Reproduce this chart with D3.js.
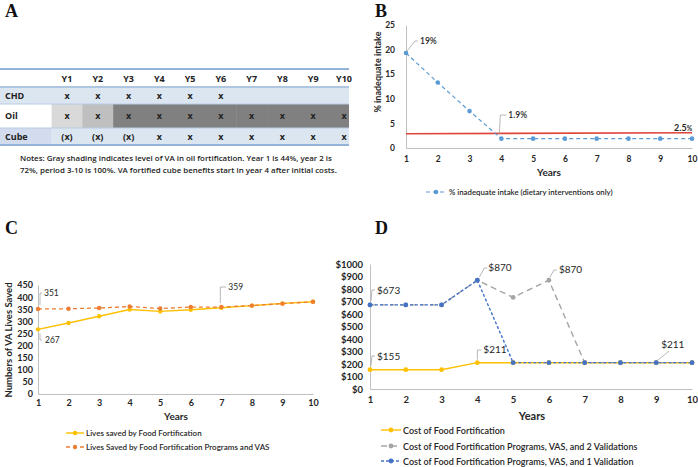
<!DOCTYPE html>
<html><head><meta charset="utf-8">
<script src="https://cdn.jsdelivr.net/npm/d3@7"></script>
<style>body{margin:0;background:#fff}svg{display:block}</style>
</head><body>
<script>
// ---------- DATA ----------
const tableYears = ["Y1","Y2","Y3","Y4","Y5","Y6","Y7","Y8","Y9","Y10"];
const chdMarks  = ["x","x","x","x","x","x","","","",""];
const oilMarks  = ["x","x","x","x","x","x","x","x","x","x"];
const oilShade  = [44,72,100,100,100,100,100,100,100,100];
const cubeMarks = ["(x)","(x)","(x)","x","x","x","x","x","x","x"];
const notesLines = ["Notes: Gray shading indicates level of VA in oil fortification. Year 1 is 44%, year 2 is",
                    "72%, period 3-10  is 100%. VA fortified cube benefits start in year 4 after initial costs."];

const years = [1,2,3,4,5,6,7,8,9,10];
const inadequate = [19.3,13.3,7.5,1.9,1.9,1.9,1.9,1.9,1.9,1.9];
const thresholdValue = 2.9;
const bTicks = [0,5,10,15,20,25];

const livesFood = [267,293,321,349,341,348,356,365,374,381];
const livesFoodVAS = [351,352,355,361,353,359,359,365,373,381];
const cTicks = [0,50,100,150,200,250,300,350,400,450];

const costFood = [155,155,155,211,211,211,211,211,211,211];
const cost2Val = [673,673,673,870,733,870,211,211,211,211];
const cost1Val = [673,673,673,870,211,211,211,211,211,211];
const dTicks = [0,100,200,300,400,500,600,700,800,900,1000];

const W=698,H=467;
const svg=d3.select("body").append("svg").attr("width",W).attr("height",H);
const font="Lato, 'Open Sans', sans-serif";
const txt="#262626";

function panelLetter(t,x,y){
  svg.append("text").attr("x",x).attr("y",y).text(t)
   .attr("font-family","'Liberation Serif', serif").attr("font-weight","bold").attr("font-size",18).attr("fill","#111");
}
panelLetter("A",5,17); panelLetter("B",375,17); panelLetter("C",5,234); panelLetter("D",375,234);

// ---------- PANEL A: table ----------
const tx=d3.scalePoint().domain(tableYears).range([67,344]);
const step=tx.step();
const gA=svg.append("g");
gA.append("rect").attr("x",0).attr("y",88).attr("width",349).attr("height",16).attr("fill","#dce6f1");
gA.append("rect").attr("x",0).attr("y",128).attr("width",349).attr("height",17).attr("fill","#dce6f1");
gA.append("rect").attr("x",0).attr("y",128).attr("width",51).attr("height",17).attr("fill","#d3dcee");
const shade=d3.scaleOrdinal().domain([44,72,100]).range(["#d9d9d9","#bfbfbf","#808080"]);
gA.selectAll(".oil").data(tableYears).join("rect")
  .attr("x",(d,i)=>tx(d)-step/2).attr("y",104).attr("width",(d,i)=>i===9?349-(tx(d)-step/2):step+0.5).attr("height",24)
  .attr("fill",(d,i)=>shade(oilShade[i]));
[[69,2],[87,1.5],[145,2]].forEach(([y,w])=>gA.append("line").attr("x1",0).attr("x2",349).attr("y1",y).attr("y2",y).attr("stroke","#95b3d7").attr("stroke-width",w));
gA.append("line").attr("x1",0).attr("x2",349).attr("y1",104).attr("y2",104).attr("stroke","#b8cce4").attr("stroke-width",1);
gA.append("line").attr("x1",0).attr("x2",349).attr("y1",128).attr("y2",128).attr("stroke","#b8cce4").attr("stroke-width",1);
const tstyle=s=>s.attr("font-family","'Open Sans', sans-serif").attr("font-weight","bold").attr("font-size",9).attr("fill","#222");
gA.selectAll(".hdr").data(tableYears).join("text").attr("x",d=>tx(d)).attr("y",82).attr("text-anchor","middle").text(d=>d).call(tstyle);
[["CHD",chdMarks,99],["Oil",oilMarks,119],["Cube",cubeMarks,140]].forEach(([lab,marks,y])=>{
  gA.append("text").attr("x",5).attr("y",y).text(lab).call(tstyle);
  gA.selectAll(null).data(marks).join("text").attr("x",(d,i)=>tx(tableYears[i])).attr("y",y).attr("text-anchor","middle").text(d=>d).call(tstyle);
});
notesLines.forEach((l,i)=>gA.append("text").attr("x",20).attr("y",161+i*12).text(l)
  .attr("font-family","'Open Sans', sans-serif").attr("font-weight",600).attr("font-size",7.9).attr("fill","#222"));

function styleAxis(g,fs,weight){
  g.select(".domain").attr("stroke","#bfbfbf");
  g.selectAll(".tick line").remove();
  g.selectAll(".tick text").attr("font-family",font).attr("font-weight",weight||"bold").attr("font-size",fs).attr("fill",txt);
}
function leader(pts){
  svg.append("path").attr("d",d3.line()(pts)).attr("fill","none").attr("stroke","#a6a6a6").attr("stroke-width",0.8);
}
function label(t,x,y,fs){
  return svg.append("text").attr("x",x).attr("y",y).text(t).attr("font-family",font).attr("font-size",fs||9).attr("fill",txt);
}

// ---------- PANEL B ----------
const bx=d3.scaleLinear().domain([1,10]).range([406,692]);
const by=d3.scaleLinear().domain([0,25]).range([148,25]);
svg.append("g").attr("transform","translate(0,148)").call(d3.axisBottom(bx).tickValues(years).tickSize(0).tickPadding(8)).call(g=>styleAxis(g,8.5));
svg.append("g").attr("transform","translate(406,0)").call(d3.axisLeft(by).tickValues(bTicks).tickSize(0).tickPadding(11)).call(g=>styleAxis(g,8.5));
svg.append("text").attr("transform","translate(381,72) rotate(-90)").attr("text-anchor","middle").text("% inadequate intake")
  .attr("font-family",font).attr("font-weight","bold").attr("font-size",9).attr("fill",txt);
svg.append("text").attr("x",549).attr("y",176).attr("text-anchor","middle").text("Years").attr("font-family",font).attr("font-weight","bold").attr("font-size",10).attr("fill",txt);
svg.append("line").attr("x1",bx(1)).attr("x2",bx(10)).attr("y1",by(thresholdValue)).attr("y2",by(thresholdValue)-1).attr("stroke","#e0453a").attr("stroke-width",1.6);
svg.append("path").datum(years).attr("d",d3.line().x(d=>bx(d)).y((d,i)=>by(inadequate[i])))
  .attr("fill","none").attr("stroke","#5b9bd5").attr("stroke-width",1.2).attr("stroke-dasharray","4,3");
svg.selectAll(".bpt").data(years).join("circle").attr("cx",d=>bx(d)).attr("cy",(d,i)=>by(inadequate[i])).attr("r",2.3).attr("fill","#5b9bd5");
leader([[bx(1)+1,by(inadequate[0])-2],[bx(1)+9,41],[bx(1)+12,41]]);
label("19%",bx(1)+14,44,8.5).attr("font-weight",600);
leader([[bx(4)-2,by(1.9)-5],[bx(4)-1,115],[bx(4)+5,115]]);
label("1.9%",bx(4)+7,118,8.5).attr("font-weight",600);
const t25=svg.append("text").attr("x",692).attr("y",131).attr("text-anchor","end").attr("font-family",font).attr("font-weight","bold").attr("fill",txt);
t25.append("tspan").attr("font-size",9).text("2.5");t25.append("tspan").attr("font-size",6.5).text("%");
svg.append("line").attr("x1",426).attr("x2",446).attr("y1",192).attr("y2",192).attr("stroke","#5b9bd5").attr("stroke-width",1.2).attr("stroke-dasharray","4,3");
svg.append("circle").attr("cx",436).attr("cy",192).attr("r",2.3).attr("fill","#5b9bd5");
label("% inadequate intake (dietary interventions only)",449,195,7.8).attr("font-weight",600);

// ---------- PANEL C ----------
const cx=d3.scaleLinear().domain([1,10]).range([38,313]);
const cy=d3.scaleLinear().domain([0,450]).range([394,285]);
svg.append("g").attr("transform","translate(0,394)").call(d3.axisBottom(cx).tickValues(years).tickSize(0).tickPadding(6)).call(g=>styleAxis(g,9));
svg.append("g").attr("transform","translate(38,0)").call(d3.axisLeft(cy).tickValues(cTicks).tickSize(0).tickPadding(5)).call(g=>styleAxis(g,9));
svg.append("text").attr("transform","translate(12,340) rotate(-90)").attr("text-anchor","middle").text("Numbers of VA Lives Saved")
  .attr("font-family",font).attr("font-weight","bold").attr("font-size",9.5).attr("fill",txt);
svg.append("text").attr("x",176).attr("y",420).attr("text-anchor","middle").text("Years").attr("font-family",font).attr("font-weight","bold").attr("font-size",10).attr("fill",txt);
svg.append("path").attr("d",d3.line().x(d=>cx(d)).y((d,i)=>cy(livesFood[i]))(years)).attr("fill","none").attr("stroke","#ffc000").attr("stroke-width",1.4);
svg.append("path").attr("d",d3.line().x(d=>cx(d)).y((d,i)=>cy(livesFoodVAS[i]))(years)).attr("fill","none").attr("stroke","#ed7d31").attr("stroke-width",1.3).attr("stroke-dasharray","4,3");
svg.selectAll(".c1").data(years).join("circle").attr("cx",d=>cx(d)).attr("cy",(d,i)=>cy(livesFood[i])).attr("r",2.2).attr("fill","#ffc000");
svg.selectAll(".c2").data(years).join("circle").attr("cx",d=>cx(d)).attr("cy",(d,i)=>cy(livesFoodVAS[i])).attr("r",2.2).attr("fill","#ed7d31");
leader([[40,cy(351)-4],[40,293],[42,293]]);
label("351",44,296,8.5);
leader([[40,cy(267)+4],[40,340],[42,340]]);
label("267",45,343,8.5);
leader([[cx(7)-1,cy(359)-4],[cx(7)-1,287],[cx(7)+5,287]]);
label("359",cx(7)+7,290,8.5);
svg.append("line").attr("x1",66).attr("x2",84).attr("y1",433).attr("y2",433).attr("stroke","#ffc000").attr("stroke-width",1.4);
svg.append("circle").attr("cx",75).attr("cy",433).attr("r",2.2).attr("fill","#ffc000");
label("Lives saved by Food Fortification",86,436,8).attr("font-weight",600);
svg.append("line").attr("x1",66).attr("x2",84).attr("y1",447).attr("y2",447).attr("stroke","#ed7d31").attr("stroke-width",1.3).attr("stroke-dasharray","4,3");
svg.append("circle").attr("cx",75).attr("cy",447).attr("r",2.2).attr("fill","#ed7d31");
label("Lives Saved by Food Fortification Programs and VAS",86,450,8).attr("font-weight",600);

// ---------- PANEL D ----------
const dx=d3.scaleLinear().domain([1,10]).range([370,692]);
const dy=d3.scaleLinear().domain([0,1000]).range([389,264]);
svg.append("g").attr("transform","translate(0,389)").call(d3.axisBottom(dx).tickValues(years).tickSize(0).tickPadding(7)).call(g=>styleAxis(g,9.5));
svg.append("g").attr("transform","translate(370,0)").call(d3.axisLeft(dy).tickValues(dTicks).tickSize(0).tickPadding(7).tickFormat(d=>"$"+d)).call(g=>styleAxis(g,9.5,"bold"));
svg.append("text").attr("x",532).attr("y",420).attr("text-anchor","middle").text("Years").attr("font-family",font).attr("font-weight","bold").attr("font-size",11).attr("fill",txt);
const dline=arr=>d3.line().x(d=>dx(d)).y((d,i)=>dy(arr[i]))(years);
svg.append("path").attr("d",dline(costFood)).attr("fill","none").attr("stroke","#ffc000").attr("stroke-width",1.5);
svg.append("path").attr("d",dline(cost2Val)).attr("fill","none").attr("stroke","#a5a5a5").attr("stroke-width",1.4).attr("stroke-dasharray","6,4");
svg.append("path").attr("d",dline(cost1Val)).attr("fill","none").attr("stroke","#4472c4").attr("stroke-width",1.4).attr("stroke-dasharray","3,2");
svg.selectAll(".d1").data(years).join("circle").attr("cx",d=>dx(d)).attr("cy",(d,i)=>dy(costFood[i])).attr("r",2.4).attr("fill","#ffc000");
svg.selectAll(".d2").data(years).join("circle").attr("cx",d=>dx(d)).attr("cy",(d,i)=>dy(cost2Val[i])).attr("r",2.4).attr("fill","#a5a5a5");
svg.selectAll(".d3").data(years).join("circle").attr("cx",d=>dx(d)).attr("cy",(d,i)=>dy(cost1Val[i])).attr("r",2.4).attr("fill","#4472c4");
leader([[dx(1)+1,dy(673)-4],[dx(1)+2,290],[dx(1)+5,290]]);
label("$673",dx(1)+7,294,10);
leader([[dx(1)+1,dy(155)-4],[dx(1)+2,356],[dx(1)+5,356]]);
label("$155",dx(1)+7,360,10);
leader([[dx(4),dy(211)-3],[dx(4),350],[dx(4)+4,350]]);
label("$211",dx(4)+6,353,10);
leader([[dx(4)+2,dy(870)-3],[dx(4)+7,268],[dx(4)+10,268]]);
label("$870",dx(4)+11,271,10);
leader([[dx(6)+1,dy(870)-3],[dx(6)+5,270],[dx(6)+8,270]]);
label("$870",dx(6)+10,273,10);
leader([[dx(9)+1,dy(211)-2],[dx(9)+13,351]]);
label("$211",dx(9)+5,348,10);
const dleg=[["Cost of Food Fortification","#ffc000",null,430],["Cost of Food Fortification Programs, VAS, and 2 Validations","#a5a5a5","6,4",446],["Cost of Food Fortification Programs, VAS, and 1 Validation","#4472c4","3,2",461]];
dleg.forEach(([t,c,da,y])=>{
  const l=svg.append("line").attr("x1",381).attr("x2",401).attr("y1",y).attr("y2",y).attr("stroke",c).attr("stroke-width",1.4);
  if(da) l.attr("stroke-dasharray",da);
  svg.append("circle").attr("cx",391).attr("cy",y).attr("r",2.4).attr("fill",c);
  label(t,403,y+3.5,9).attr("font-weight",600);
});
</script>
</body></html>
